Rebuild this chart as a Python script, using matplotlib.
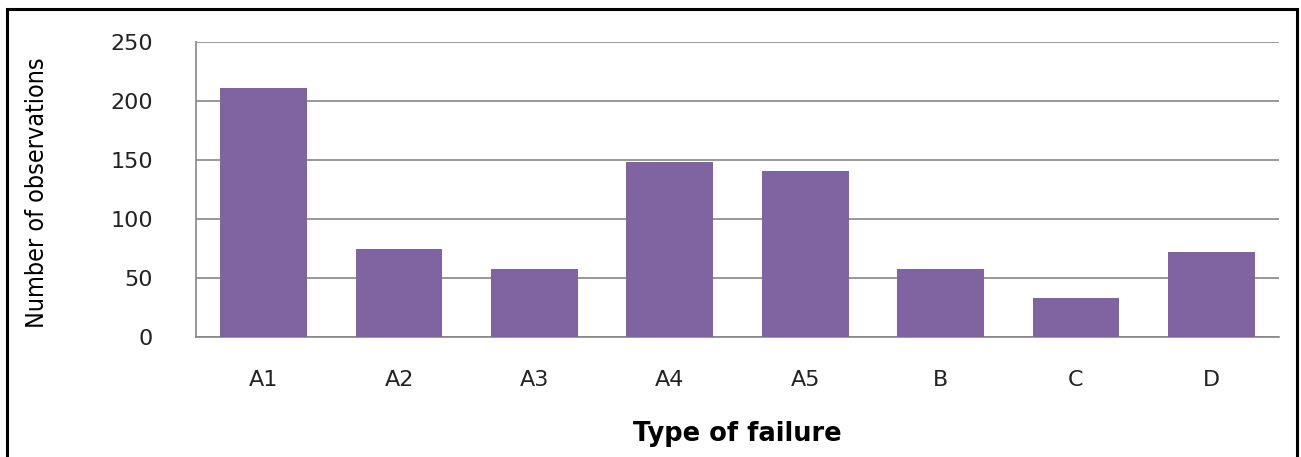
import matplotlib.pyplot as plt
from matplotlib.patches import Rectangle
import numpy as np

categories = ['A1', 'A2', 'A3', 'A4', 'A5', 'B', 'C', 'D']
observations = [211, 75, 58, 148, 141, 58, 33, 72]

fig = plt.figure(figsize=(13.01, 4.57), dpi=100)
ax = fig.add_axes([196 / 1301, 1 - 337 / 457, (1279 - 196) / 1301, (337 - 42) / 457])

x = np.arange(len(categories))
ax.bar(x, observations, width=0.64, color='#8064A2', zorder=3)

ax.set_xlim(-0.5, len(categories) - 0.5)
ax.set_ylim(0, 250)
ax.set_yticks(range(0, 251, 50))
ax.set_xticks(x)
ax.set_xticklabels(categories)
ax.grid(axis='y', color='#868686', linewidth=1.2, zorder=0)

for side in ['top', 'right']:
    ax.spines[side].set_visible(False)
for side in ['left', 'bottom']:
    ax.spines[side].set_color('#868686')
    ax.spines[side].set_linewidth(1.2)

ax.tick_params(axis='both', length=0, labelsize=16, colors='#222222')
ax.tick_params(axis='y', pad=31)
ax.tick_params(axis='x', pad=24)

ax.set_ylabel('Number of observations', fontstretch='condensed', fontsize=18)
ax.yaxis.set_label_coords((49 - 196) / 1083, 0.49)
ax.set_xlabel('Type of failure', fontweight='bold', fontsize=18.5)
ax.xaxis.set_label_coords(0.5, (337 - 421) / 295)

# black frame round the whole picture
fig.patches.append(Rectangle((7 / 1301, -0.05), (1297 - 7) / 1301, 1.05 - 9 / 457,
                             transform=fig.transFigure, fill=False,
                             edgecolor='black', linewidth=2.2))

fig.savefig('out.png', dpi=100)
